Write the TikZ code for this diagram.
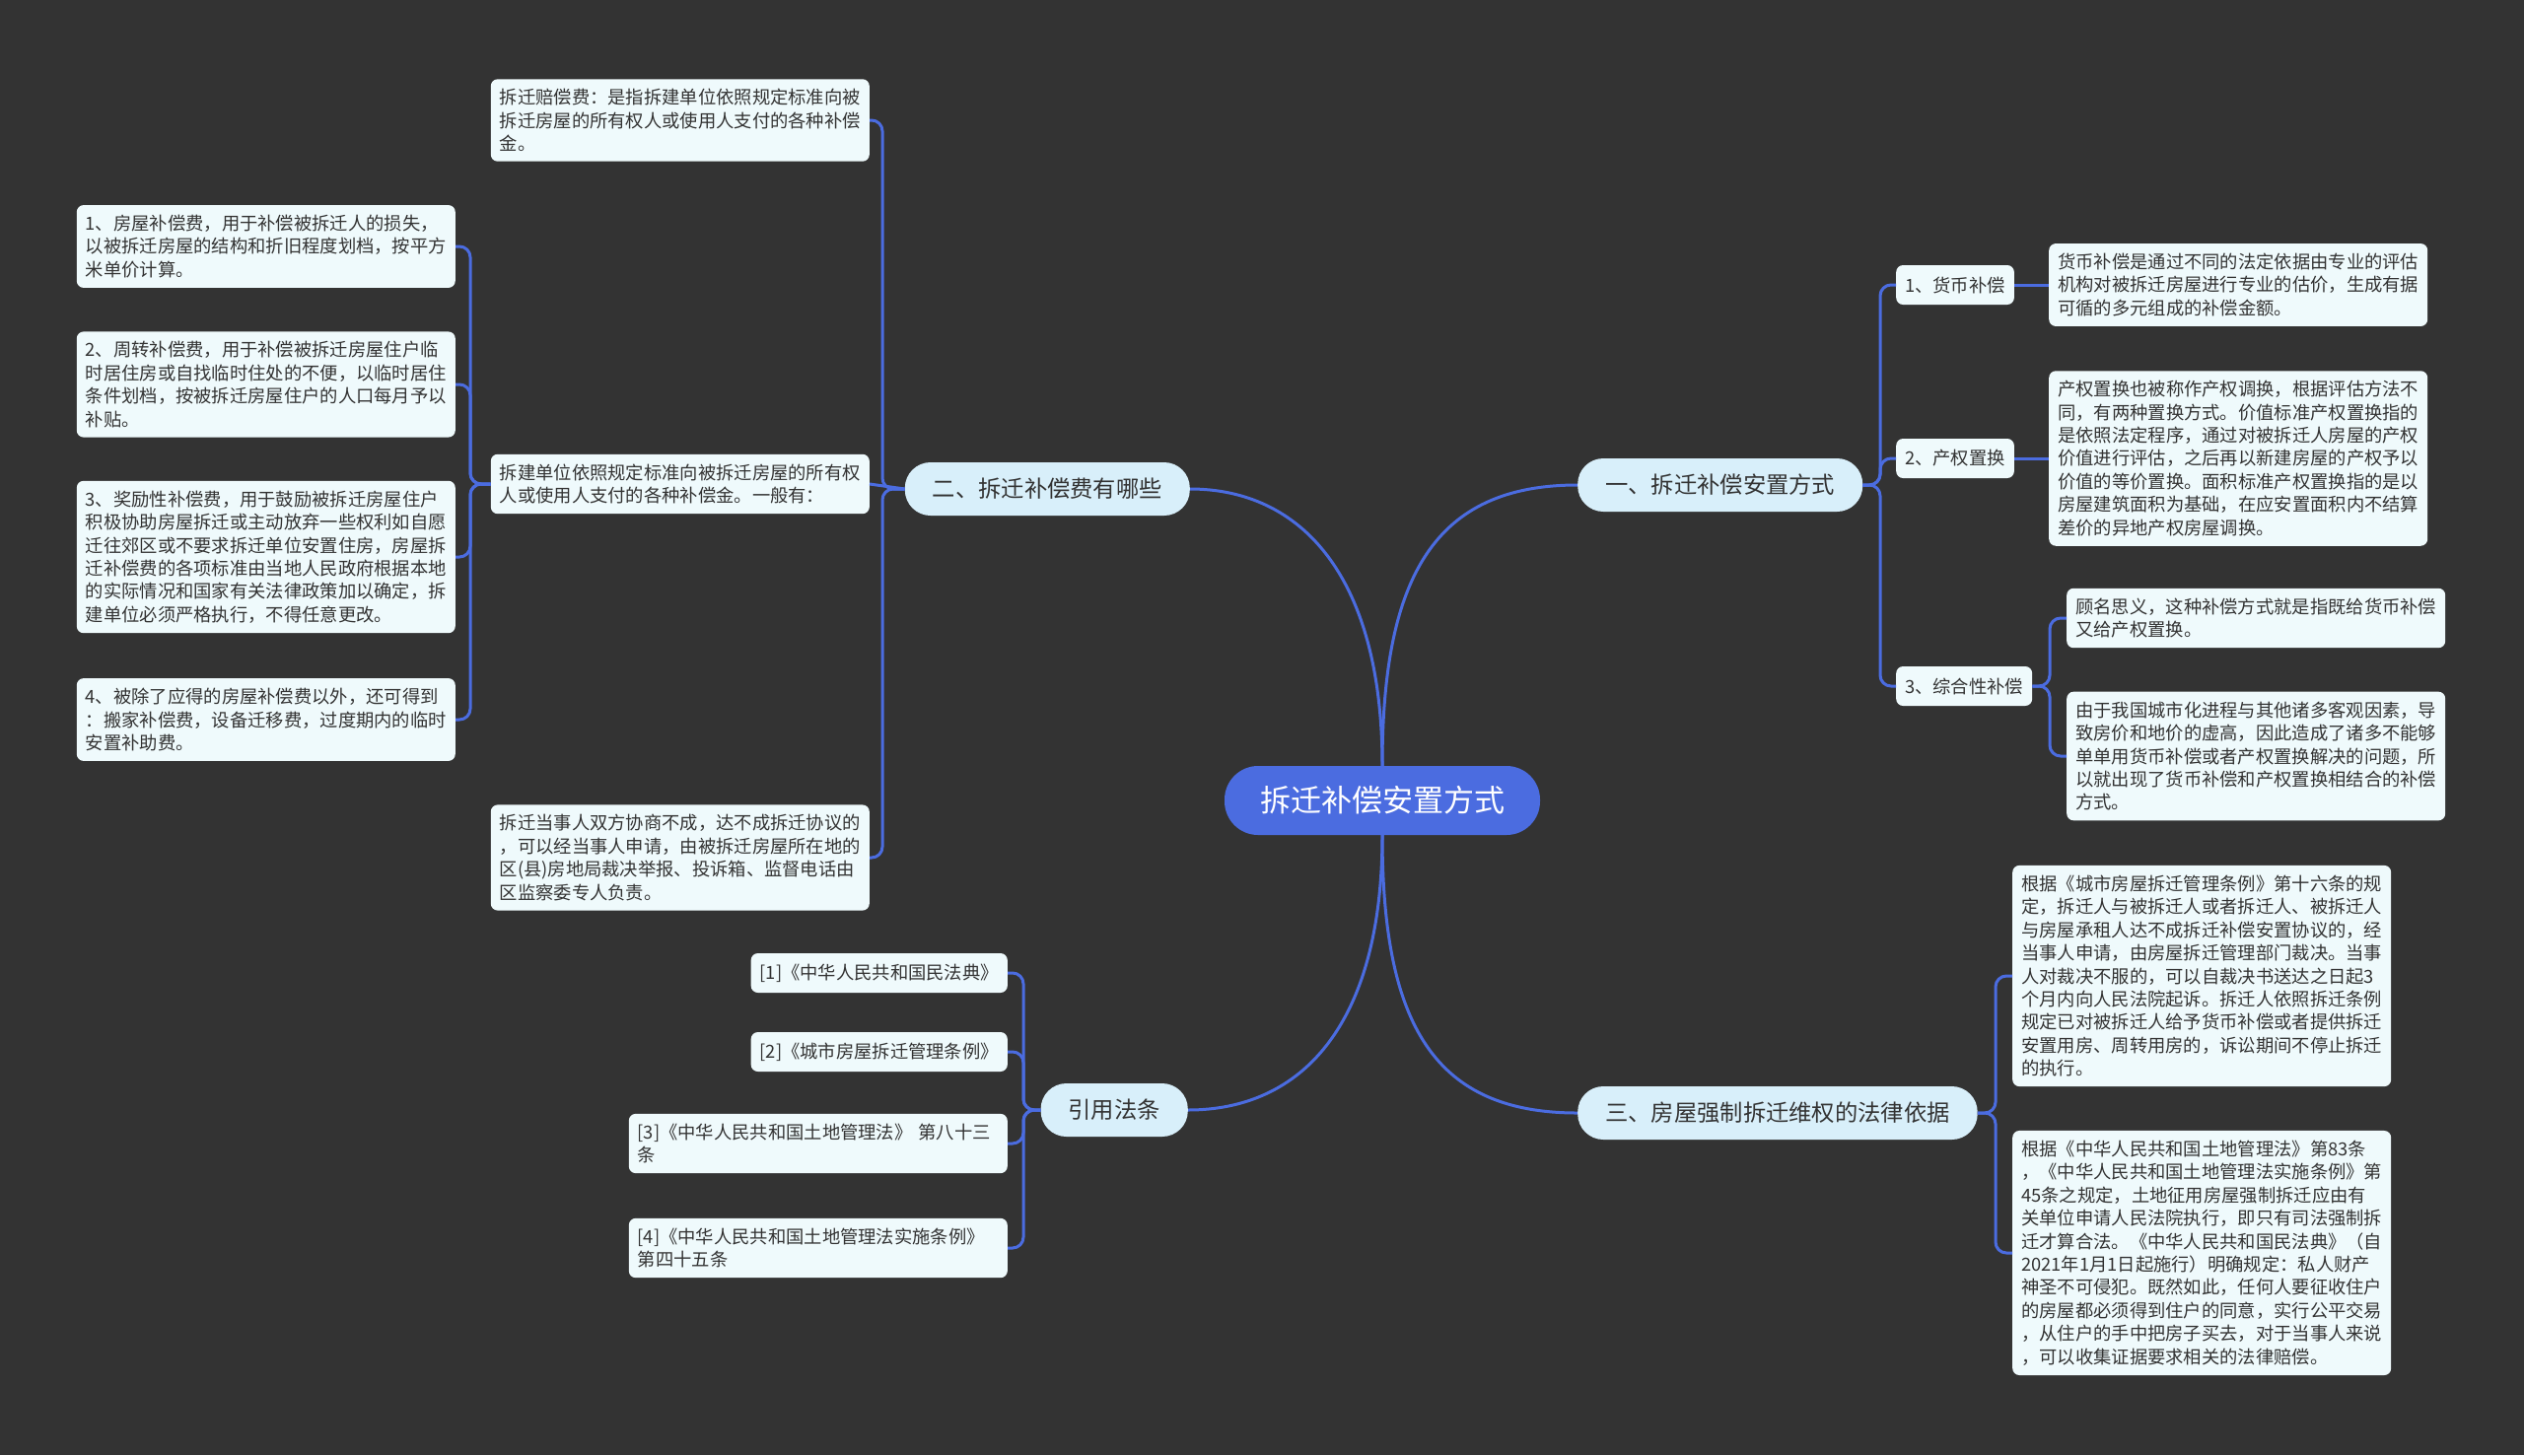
\documentclass[tikz,border=0pt]{standalone}
\usepackage{fontspec}
\setmainfont{Noto Sans CJK SC}
\definecolor{bg}{HTML}{333333}
\definecolor{lnk}{HTML}{4B6CE0}
\definecolor{topfill}{HTML}{D8EFFA}
\definecolor{leaffill}{HTML}{EFFAFC}
\definecolor{txt}{HTML}{333333}
\tikzset{
 root/.style={fill=lnk, text=white, rounded corners=34pt, inner xsep=36pt, minimum height=70pt, font=\fontsize{31}{37}\selectfont},
 topic/.style={fill=topfill, text=txt, rounded corners=26pt, inner xsep=28pt, minimum height=54pt, font=\fontsize{23.3}{28}\selectfont},
 sub/.style={fill=leaffill, text=txt, rounded corners=7pt, inner xsep=9pt, minimum height=40pt, font=\fontsize{18.3}{23.4}\selectfont},
 leaf/.style={sub, text width=366pt, align=left, inner ysep=10pt},
 leafn/.style={sub, align=left, inner ysep=10pt},
 link/.style={draw=lnk, line width=3pt},
 br/.style={link, rounded corners=11pt},
}
\begin{document}
\begin{tikzpicture}[x=1pt,y=-1pt]
\fill[bg] (0,0) rectangle (2560,1476);
\useasboundingbox (0,0) rectangle (2560,1476);

% root and main topics
\node[root] (c) at (1402,812) {拆迁补偿安置方式};
\node[topic, anchor=west] (t1) at (1600,492) {一、拆迁补偿安置方式};
\node[topic, anchor=east] (t2) at (1207,496) {二、拆迁补偿费有哪些};
\node[topic, anchor=west] (t3) at (1600,1129) {三、房屋强制拆迁维权的法律依据};
\node[topic, anchor=east] (t4) at (1205,1126) {引用法条};

% branch one
\node[sub, anchor=west] (s1) at (1923,289) {1、货币补偿};
\node[sub, anchor=west] (s2) at (1923,465) {2、产权置换};
\node[sub, anchor=west] (s3) at (1923,696) {3、综合性补偿};
\node[leaf, anchor=west] (l1) at (2078,289) {货币补偿是通过不同的法定依据由专业的评估\\机构对被拆迁房屋进行专业的估价，生成有据\\可循的多元组成的补偿金额。};
\node[leaf, anchor=west] (l2) at (2078,465) {产权置换也被称作产权调换，根据评估方法不\\同，有两种置换方式。价值标准产权置换指的\\是依照法定程序，通过对被拆迁人房屋的产权\\价值进行评估，之后再以新建房屋的产权予以\\价值的等价置换。面积标准产权置换指的是以\\房屋建筑面积为基础，在应安置面积内不结算\\差价的异地产权房屋调换。};
\node[leaf, anchor=west] (l3) at (2096,627) {顾名思义，这种补偿方式就是指既给货币补偿\\又给产权置换。};
\node[leaf, anchor=west] (l4) at (2096,767) {由于我国城市化进程与其他诸多客观因素，导\\致房价和地价的虚高，因此造成了诸多不能够\\单单用货币补偿或者产权置换解决的问题，所\\以就出现了货币补偿和产权置换相结合的补偿\\方式。};

% branch two
\node[leaf, anchor=east] (a1) at (882,122) {拆迁赔偿费：是指拆建单位依照规定标准向被\\拆迁房屋的所有权人或使用人支付的各种补偿\\金。};
\node[leaf, anchor=east] (a2) at (882,491) {拆建单位依照规定标准向被拆迁房屋的所有权\\人或使用人支付的各种补偿金。一般有：};
\node[leaf, anchor=east] (a3) at (882,870) {拆迁当事人双方协商不成，达不成拆迁协议的\\，可以经当事人申请，由被拆迁房屋所在地的\\区(县)房地局裁决举报、投诉箱、监督电话由\\区监察委专人负责。};
\node[leaf, anchor=east] (b1) at (462,250) {1、房屋补偿费，用于补偿被拆迁人的损失，\\以被拆迁房屋的结构和折旧程度划档，按平方\\米单价计算。};
\node[leaf, anchor=east] (b2) at (462,390) {2、周转补偿费，用于补偿被拆迁房屋住户临\\时居住房或自找临时住处的不便，以临时居住\\条件划档，按被拆迁房屋住户的人口每月予以\\补贴。};
\node[leaf, anchor=east] (b3) at (462,565) {3、奖励性补偿费，用于鼓励被拆迁房屋住户\\积极协助房屋拆迁或主动放弃一些权利如自愿\\迁往郊区或不要求拆迁单位安置住房，房屋拆\\迁补偿费的各项标准由当地人民政府根据本地\\的实际情况和国家有关法律政策加以确定，拆\\建单位必须严格执行，不得任意更改。};
\node[leaf, anchor=east] (b4) at (462,730) {4、被除了应得的房屋补偿费以外，还可得到\\：搬家补偿费，设备迁移费，过度期内的临时\\安置补助费。};

% branch three
\node[leaf, anchor=west] (d1) at (2041,990) {根据《城市房屋拆迁管理条例》第十六条的规\\定，拆迁人与被拆迁人或者拆迁人、被拆迁人\\与房屋承租人达不成拆迁补偿安置协议的，经\\当事人申请，由房屋拆迁管理部门裁决。当事\\人对裁决不服的，可以自裁决书送达之日起3\\个月内向人民法院起诉。拆迁人依照拆迁条例\\规定已对被拆迁人给予货币补偿或者提供拆迁\\安置用房、周转用房的，诉讼期间不停止拆迁\\的执行。};
\node[leaf, anchor=west] (d2) at (2041,1271) {根据《中华人民共和国土地管理法》第83条\\，《中华人民共和国土地管理法实施条例》第\\45条之规定，土地征用房屋强制拆迁应由有\\关单位申请人民法院执行，即只有司法强制拆\\迁才算合法。《中华人民共和国民法典》（自\\2021年1月1日起施行）明确规定：私人财产\\神圣不可侵犯。既然如此，任何人要征收住户\\的房屋都必须得到住户的同意，实行公平交易\\，从住户的手中把房子买去，对于当事人来说\\，可以收集证据要求相关的法律赔偿。};

% citations
\node[leafn, anchor=east] (e1) at (1022,987) {[1]《中华人民共和国民法典》};
\node[leafn, anchor=east] (e2) at (1022,1067) {[2]《城市房屋拆迁管理条例》};
\node[leaf, anchor=east] (e3) at (1022,1160) {[3]《中华人民共和国土地管理法》 第八十三\\条};
\node[leaf, anchor=east] (e4) at (1022,1266) {[4]《中华人民共和国土地管理法实施条例》\\第四十五条};

% root connectors
\draw[link] (c.north) .. controls (1402,585) and (1455,492) .. (t1.west);
\draw[link] (c.north) .. controls (1402,585) and (1320,496) .. (t2.east);
\draw[link] (c.south) .. controls (1402,1040) and (1455,1129) .. (t3.west);
\draw[link] (c.south) .. controls (1402,1040) and (1320,1126) .. (t4.east);

% branch one connectors
\draw[br] (t1.east) -- (1907,492) |- (s1.west);
\draw[br] (t1.east) -- (1907,492) |- (s2.west);
\draw[br] (t1.east) -- (1907,492) |- (s3.west);
\draw[link] (s1.east) -- (l1.west);
\draw[link] (s2.east) -- (l2.west);
\draw[br] (s3.east) -- (2079,696) |- (l3.west);
\draw[br] (s3.east) -- (2079,696) |- (l4.west);

% branch two connectors
\draw[br] (t2.west) -- (895,496) |- (a1.east);
\draw[link] (t2.west) -- (a2.east);
\draw[br] (t2.west) -- (895,496) |- (a3.east);
\draw[br] (a2.west) -- (477,491) |- (b1.east);
\draw[br] (a2.west) -- (477,491) |- (b2.east);
\draw[br] (a2.west) -- (477,491) |- (b3.east);
\draw[br] (a2.west) -- (477,491) |- (b4.east);

% branch three connectors
\draw[br] (t3.east) -- (2024,1129) |- (d1.west);
\draw[br] (t3.east) -- (2024,1129) |- (d2.west);

% citation connectors
\draw[br] (t4.west) -- (1038,1126) |- (e1.east);
\draw[br] (t4.west) -- (1038,1126) |- (e2.east);
\draw[br] (t4.west) -- (1038,1126) |- (e3.east);
\draw[br] (t4.west) -- (1038,1126) |- (e4.east);
\end{tikzpicture}
\end{document}
